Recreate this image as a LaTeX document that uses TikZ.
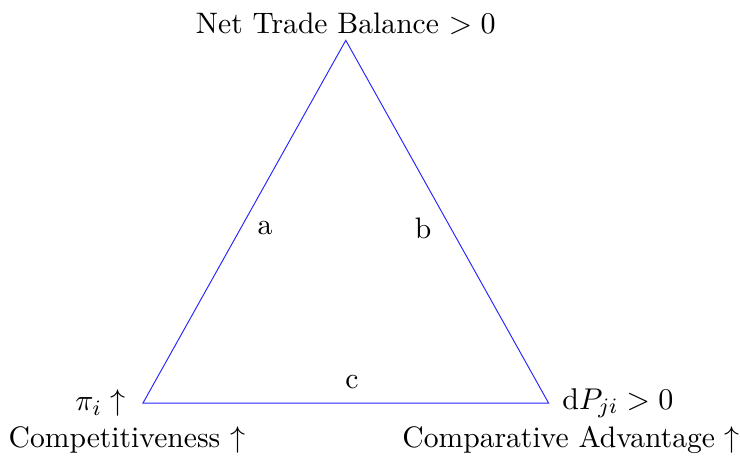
\documentclass[tikz,border=0pt]{standalone}
\usepackage{amsmath,amssymb}
\usepackage{tikz}
\usetikzlibrary{positioning}
\tikzset{
  every node/.style={font=\fontsize{10.8pt}{13pt}\selectfont},
  edge/.style={draw=blue!85, line width=0.35pt},
  vlabel/.style={inner sep=2pt},
  tag/.style={inner sep=0pt},
}
\begin{document}
\begin{tikzpicture}
    \useasboundingbox (-1.833,-0.731) rectangle (7.654,5.167);
    \coordinate (c1) at (0,0);
    \coordinate (c2) at (5.2,0);
    \coordinate (c3) at (2.6,4.65);
    \draw[edge] (c1) -- (c2) -- (c3) -- cycle;
    \node[vlabel, anchor=south] (top) at (c3) {Net Trade Balance $> 0$};
    \node[vlabel, left=0.15cm of c1] (pi) {$\pi_i\uparrow$};
    \node[vlabel, right=0.1cm of c2] (dp) {$\mathrm{d}P_{ji} > 0$};
    \node[vlabel] (comp) at (-0.205,-0.474) {Competitiveness $\uparrow$};
    \node[vlabel] (adv) at (5.49,-0.474) {Comparative Advantage $\uparrow$};
    \node[tag] (la) at (1.564,2.244) {a};
    \node[tag] (lb) at (3.59,2.244) {b};
    \node[tag] (lc) at (2.68,0.27) {c};
  \end{tikzpicture}
\end{document}
